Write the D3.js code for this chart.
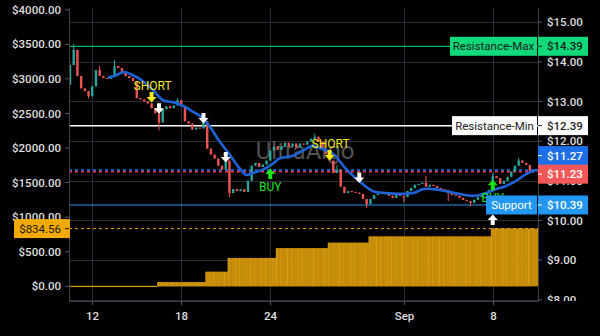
<!DOCTYPE html>
<html><head><meta charset="utf-8">
<script src="https://cdn.jsdelivr.net/npm/d3@7"></script>
<style>html,body{margin:0;padding:0;background:#000;} svg{display:block;font-family:Roboto,"Liberation Sans",sans-serif;}</style>
</head><body><svg id="c" width="600" height="336"></svg>
<script>
// ---------- DATA ----------
// 6-hour candles, bar index 0..124
const firstOpen = 13.42;
const closes = [
 13.92,14.30,13.64,13.33,13.26,13.13,13.38,13.79,13.64,13.59,
 13.57,13.61,13.89,13.84,13.74,13.64,13.59,13.51,13.08,13.05,
 13.00,12.95,12.83,12.70,12.47,12.80,12.88,12.83,12.90,13.03,
 12.88,12.50,12.44,12.29,12.34,12.32,12.50,11.81,11.66,11.56,
 11.38,11.28,11.51,10.69,10.79,10.74,10.79,10.72,11.00,11.38,
 11.45,11.35,11.41,11.51,11.76,11.86,11.78,11.86,11.96,11.86,
 11.94,11.84,11.94,11.91,11.99,12.06,12.11,11.99,11.81,11.68,
 11.51,11.20,11.28,10.85,10.69,10.74,10.72,10.70,10.67,10.54,
 10.41,10.54,10.64,10.67,10.69,10.67,10.62,10.57,10.64,10.62,
 10.59,10.74,10.82,10.90,10.92,10.95,10.85,10.90,10.87,10.82,
 10.79,10.77,10.69,10.64,10.62,10.57,10.52,10.49,10.44,10.52,
 10.59,10.67,10.69,10.77,11.12,11.07,10.92,11.00,11.10,11.23,
 11.38,11.51,11.45,11.40,11.23];
const spikeIdx  = [1,5,8,12,24,29,36,42,43,66,72,80,90,96,102,108,114,121];
const spikeHigh = [14.45,null,13.89,14.04,null,13.08,12.57,11.68,null,12.19,11.40,null,null,11.12,null,null,11.20,11.58];
const spikeLow  = [null,13.08,null,null,12.27,null,null,null,10.59,null,null,10.31,10.46,null,10.49,10.36,null,null];

// moving average
const maIdx = [10.5,12.4,14.6,17,19.7,22.4,25.1,27.8,29.4,31.3,32.6,34.8,37.5,40.2,42.9,45.6,47.5,49.4,52,54.7,56.4,60.1,62.8,65.5,67.2,70.9,74.4,77.9,81.7,85.2,88.7,92.5,95.2,97.9,101.4,104.9,108.7,112.2,114.9,117.6,120.3,123,125.7];
const maVal = [13.61,13.66,13.74,13.66,13.51,13.28,13.03,12.98,12.93,12.85,12.77,12.65,12.39,12.01,11.68,11.33,11.15,11.20,11.28,11.43,11.56,11.63,11.76,11.88,11.83,11.68,11.30,11.00,10.74,10.69,10.67,10.69,10.79,10.79,10.74,10.67,10.62,10.69,10.79,10.87,11.00,11.17,11.27];

// equity (left scale) step histogram
const eqStart = [0,24,37,43,56,70,81,114];
const eqValue = [0,60,210,410,550,630,720,834.56];

// levels
const resMax = 14.39, resMin = 12.39, support = 10.39;
const lastMA = 11.27, lastClose = 11.23, lastEquity = 834.56;

// signals
const sigIdx   = [22,24,36,42,54,70,78,114,114];
const sigPrice = [13.11,12.83,12.58,11.60,11.17,11.65,11.08,10.89,10.01];
const sigType  = ["short","down","down","down","buy","short","down","buy","up"];

// axes
const xTickIdx = [6,30,54,90,114];
const xTickLab = ["12","18","24","Sep","8"];
const leftTicks = [0,500,1000,1500,2000,2500,3000,3500,4000];
const rightTicks = [8,9,10,11,12,13,14,15];

// ---------- DRAW ----------
const svg = d3.select("#c");
const P = {l:69, r:538, t:8, b:301};
const x  = d3.scaleLinear().domain([-0.27,126.2]).range([P.l,P.r]);
const yP = d3.scaleLinear().domain([7.970,15.355]).range([P.b,P.t]);
const yE = d3.scaleLinear().domain([-212.6,4025]).range([P.b,P.t]);

svg.append("rect").attr("width",600).attr("height",336).attr("fill","#000");
const defs = svg.append("defs");
defs.append("clipPath").attr("id","pane").append("rect").attr("x",P.l).attr("y",P.t).attr("width",P.r-P.l).attr("height",P.b-P.t);
defs.append("clipPath").attr("id","axl").append("rect").attr("x",0).attr("y",3).attr("width",600).attr("height",P.b-3);

const gridC = "#2a2d38";
const g = svg.append("g").attr("clip-path","url(#pane)");
// grid
g.selectAll(".hg").data(rightTicks).join("line")
 .attr("x1",P.l).attr("x2",P.r).attr("y1",d=>Math.round(yP(d))+0.5).attr("y2",d=>Math.round(yP(d))+0.5)
 .attr("stroke",gridC);
g.selectAll(".vg").data(xTickIdx).join("line")
 .attr("y1",P.t).attr("y2",P.b).attr("x1",d=>Math.round(x(d))+0.5).attr("x2",d=>Math.round(x(d))+0.5)
 .attr("stroke",gridC);

// equity histogram
const bw = x(1)-x(0);
const eqBars = closes.map((c,i)=>{ let k=0; eqStart.forEach((s,j)=>{ if(i>=s) k=j; }); return {i, v:eqValue[k]}; });
const eqG = g.append("g");
eqBars.forEach(d=>{
  if(d.v<=0){
    eqG.append("rect").attr("x",x(d.i)-bw/2).attr("width",bw).attr("y",yE(0)-0.5).attr("height",1.2).attr("fill","#e6a010");
  } else {
    eqG.append("rect").attr("x",x(d.i)-bw/2).attr("width",bw).attr("y",yE(d.v)).attr("height",yE(0)-yE(d.v)).attr("fill","#e0a21c");
    eqG.append("rect").attr("x",x(d.i)-bw/2+0.8).attr("width",bw-0.8).attr("y",yE(d.v)).attr("height",yE(0)-yE(d.v)).attr("fill","#c78d06");
  }
});
{
  const lastI = closes.length-1;
  const xe = x(lastI)+bw/2;
  eqG.append("rect").attr("x",xe).attr("width",P.r-xe).attr("y",yE(lastEquity)).attr("height",yE(0)-yE(lastEquity)).attr("fill","#c78d06");
}

// level lines
function hline(v, scale, color, dash, w){
  g.append("line").attr("x1",P.l).attr("x2",P.r).attr("y1",scale(v)).attr("y2",scale(v))
   .attr("stroke",color).attr("stroke-width",w||1).attr("stroke-dasharray",dash||null);
}
hline(resMax, yP, "#00e676");
hline(resMin, yP, "#ffffff", null, 1.5);
hline(support, yP, "#2196f3");
hline(lastEquity, yE, "#f0a500", "3,3");
hline(lastMA, yP, "#2979ff", "3,3", 1.5);
hline(lastClose, yP, "#f23645", "3,3", 1.5);

// watermark
g.append("text").attr("x",305).attr("y",159).attr("text-anchor","middle")
 .attr("font-size",24).attr("fill","#6e6e6e").attr("opacity",0.75).text("UltraAlgo");

// candles
const up="#26a69a", dn="#ef5350";
const cw = 2.4;
closes.forEach((c,i)=>{
  const o = i===0 ? firstOpen : closes[i-1];
  let hi = Math.max(o,c), lo = Math.min(o,c);
  const k = spikeIdx.indexOf(i);
  if(k>=0){ if(spikeHigh[k]!=null) hi=spikeHigh[k]; if(spikeLow[k]!=null) lo=spikeLow[k]; }
  const col = c>=o?up:dn;
  const cx = x(i);
  g.append("line").attr("x1",cx).attr("x2",cx).attr("y1",yP(hi)).attr("y2",yP(lo)).attr("stroke",col).attr("stroke-width",1);
  const yt = yP(Math.max(o,c)), yb = yP(Math.min(o,c));
  g.append("rect").attr("x",cx-cw/2).attr("width",cw).attr("y",yt).attr("height",Math.max(1,yb-yt)).attr("fill",col);
});

// MA
g.append("path").datum(maIdx.map((d,i)=>[d,maVal[i]]))
 .attr("d",d3.line().x(d=>x(d[0])).y(d=>yP(d[1])).curve(d3.curveCatmullRom.alpha(0.5)))
 .attr("fill","none").attr("stroke","#1e63d6").attr("stroke-width",2.6).attr("stroke-linecap","round");

// signals
function arrow(cx, cy, dir, color){
  const s = dir;
  const p = [
    [cx-2, cy-5*s],[cx+2, cy-5*s],[cx+2, cy],[cx+5, cy],[cx, cy+5.5*s],[cx-5, cy],[cx-2, cy]
  ];
  g.append("path").attr("d","M"+p.map(q=>q.join(",")).join("L")+"Z").attr("fill",color);
}
sigIdx.forEach((si,k)=>{
  const cx = x(si), cy = yP(sigPrice[k]), t = sigType[k];
  if(t==="short"){
    arrow(cx, cy, 1, "#f5ea14");
    g.append("text").attr("x",cx+1).attr("y",cy-7).attr("text-anchor","middle").attr("font-size",12).attr("fill","#f5ea14").text("SHORT");
  } else if(t==="down"){
    arrow(cx, cy, 1, "#ffffff");
  } else if(t==="up"){
    arrow(cx, cy, -1, "#ffffff");
  } else if(t==="buy"){
    arrow(cx, cy, -1, "#19e619");
    g.append("text").attr("x",cx).attr("y",cy+17).attr("text-anchor","middle").attr("font-size",12).attr("fill","#19e619").text("BUY");
  }
});

// axes lines
const axC = "#3d3f4c";
svg.append("line").attr("x1",P.l+0.5).attr("x2",P.l+0.5).attr("y1",P.t).attr("y2",P.b+1).attr("stroke",axC);
svg.append("line").attr("x1",P.r+0.5).attr("x2",P.r+0.5).attr("y1",P.t).attr("y2",P.b+1).attr("stroke",axC);
svg.append("line").attr("x1",P.l).attr("x2",P.r).attr("y1",P.b+0.5).attr("y2",P.b+0.5).attr("stroke",axC);

const txtC = "#dedede";
const axl = svg.append("g").attr("clip-path","url(#axl)");
leftTicks.forEach(v=>{
  const yy = yE(v);
  axl.append("line").attr("x1",P.l-4).attr("x2",P.l).attr("y1",yy).attr("y2",yy).attr("stroke","#55586a");
  axl.append("text").attr("x",61).attr("y",yy).attr("dy","0.36em").attr("text-anchor","end")
   .attr("font-size",11.5).attr("font-weight",500).attr("fill",txtC).text(d3.format("$.2f")(v));
});
rightTicks.forEach(v=>{
  const yy = yP(v);
  axl.append("line").attr("x1",P.r).attr("x2",P.r+4).attr("y1",yy).attr("y2",yy).attr("stroke","#55586a");
  axl.append("text").attr("x",547).attr("y",yy).attr("dy","0.36em")
   .attr("font-size",11.5).attr("font-weight",500).attr("fill",txtC).text(d3.format("$.2f")(v));
});
xTickIdx.forEach((v,i)=>{
  const xx = Math.round(x(v))+0.5;
  svg.append("line").attr("x1",xx).attr("x2",xx).attr("y1",P.b).attr("y2",P.b+4).attr("stroke","#55586a");
  svg.append("text").attr("x",xx).attr("y",316).attr("dy","0.36em").attr("text-anchor","middle")
   .attr("font-size",11.5).attr("font-weight",500).attr("fill",txtC).text(xTickLab[i]);
});

// labels
function priceBox(cy, txt, bg, fg){
  svg.append("rect").attr("x",P.r).attr("y",cy-9.5).attr("width",50).attr("height",19).attr("fill",bg);
  svg.append("line").attr("x1",P.r).attr("x2",P.r+4).attr("y1",cy).attr("y2",cy).attr("stroke",fg);
  svg.append("text").attr("x",547).attr("y",cy).attr("dy","0.36em").attr("font-size",11.5).attr("font-weight",500).attr("fill",fg).text(txt);
}
function nameBox(cy, x0, txt, bg, fg){
  svg.append("rect").attr("x",x0).attr("y",cy-9.5).attr("width",P.r-1-x0).attr("height",19).attr("fill",bg);
  svg.append("text").attr("x",(x0+P.r-1)/2).attr("y",cy).attr("dy","0.36em").attr("text-anchor","middle")
   .attr("font-size",11.5).attr("fill",fg).text(txt);
}
const fmt = d3.format("$.2f");
nameBox(yP(resMax), 450, "Resistance-Max", "#10d97a", "#1a1a1a");
priceBox(yP(resMax), fmt(resMax), "#10d97a", "#1a1a1a");
nameBox(yP(resMin), 452, "Resistance-Min", "#ffffff", "#222");
priceBox(yP(resMin), fmt(resMin), "#ffffff", "#222");
priceBox(yP(lastMA)-14.5, fmt(lastMA), "#1d6fe8", "#ffffff");
priceBox(yP(lastClose)+2.5, fmt(lastClose), "#f45757", "#ffffff");
nameBox(yP(support), 486, "Support", "#2196f3", "#ffffff");
priceBox(yP(support), fmt(support), "#2196f3", "#ffffff");
{
  const cy = yE(lastEquity);
  svg.append("rect").attr("x",14).attr("y",cy-9.5).attr("width",56).attr("height",19).attr("fill","#f2a900");
  svg.append("line").attr("x1",P.l-4).attr("x2",P.l).attr("y1",cy).attr("y2",cy).attr("stroke","#1a1a1a");
  svg.append("text").attr("x",61).attr("y",cy).attr("dy","0.36em").attr("text-anchor","end")
   .attr("font-size",11.5).attr("fill","#1a1a1a").text(fmt(lastEquity));
}
</script></body></html>
